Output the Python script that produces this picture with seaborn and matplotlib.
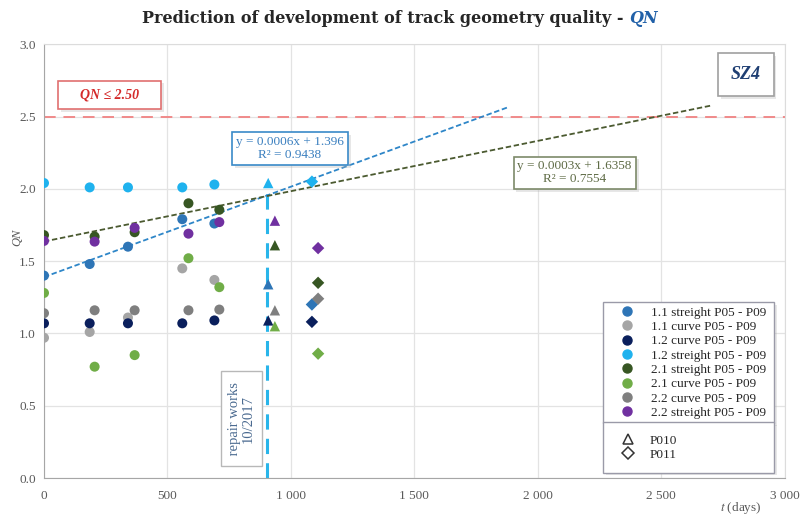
import numpy as np
import pandas as pd
import seaborn as sns
import matplotlib.pyplot as plt
import matplotlib.patheffects as pe
from matplotlib.lines import Line2D
from matplotlib.ticker import MultipleLocator, FuncFormatter

# measurement days: five campaigns P05 - P09, then P010 and P011
t_sect1 = [0, 185, 340, 560, 690, 908, 1085]
t_sect2 = [0, 205, 367, 585, 710, 935, 1110]
periods = ['P05 - P09'] * 5 + ['P010', 'P011']

series_names = ['1.1 streight P05 - P09', '1.1 curve P05 - P09', '1.2 curve P05 - P09',
                '1.2 streight P05 - P09', '2.1 streight P05 - P09', '2.1 curve P05 - P09',
                '2.2 curve P05 - P09', '2.2 streight P05 - P09']
series_colors = ['#2e75b6', '#a5a5a5', '#0a1f5c', '#1fb2ee', '#375623', '#70ad47', '#7f7f7f', '#7030a0']

qn_11_straight = [1.40, 1.48, 1.60, 1.79, 1.76, 1.34, 1.20]
qn_11_curve = [0.97, 1.01, 1.11, 1.45, 1.37, np.nan, np.nan]
qn_12_curve = [1.07, 1.07, 1.07, 1.07, 1.09, 1.09, 1.08]
qn_12_straight = [2.04, 2.01, 2.01, 2.01, 2.03, 2.04, 2.05]
qn_21_straight = [1.68, 1.67, 1.70, 1.90, 1.855, 1.61, 1.35]
qn_21_curve = [1.28, 0.77, 0.85, 1.52, 1.32, 1.05, 0.86]
qn_22_curve = [1.14, 1.16, 1.16, 1.16, 1.165, 1.16, 1.24]
qn_22_straight = [1.64, 1.635, 1.73, 1.69, 1.77, 1.78, 1.59]

qn_values = [qn_11_straight, qn_11_curve, qn_12_curve, qn_12_straight,
             qn_21_straight, qn_21_curve, qn_22_curve, qn_22_straight]
t_values = [t_sect1] * 4 + [t_sect2] * 4

# linear trends (label text, slope, intercept, end of line)
trend_blue = ('y = 0.0006x + 1.396\nR² = 0.9438', 0.000625, 1.39, 1880)
trend_green = ('y = 0.0003x + 1.6358\nR² = 0.7554', 0.000348, 1.6358, 2700)
qn_limit = 2.5
repair_day = 903

rows = []
for name, ts, qs in zip(series_names, t_values, qn_values):
    for t, q, p in zip(ts, qs, periods):
        rows.append({'series': name, 't': t, 'QN': q, 'period': p})
df = pd.DataFrame(rows).dropna()

sns.set_style("whitegrid")
plt.rcParams['font.family'] = ['Liberation Serif', 'DejaVu Serif']
plt.rcParams['mathtext.fontset'] = 'stix'

fig = plt.figure(figsize=(8, 5.17), dpi=100)
ax = fig.add_axes([0.055, 0.0754, 0.926, 0.839])

# limit line and repair works marker
ax.axhline(qn_limit, color='#f08a8a', lw=1.4, ls=(0, (6, 4)), zorder=1)
ax.plot([repair_day, repair_day], [0, 2.05], color='#29b5ea', lw=2.2, ls=(0, (5, 3)), zorder=1)

# trend lines
for (txt, k, q, x_end), col in [(trend_blue, '#2e86c8'), (trend_green, '#4b5a30')]:
    xs = np.array([0, x_end])
    ax.plot(xs, k * xs + q, color=col, lw=1.3, ls=(0, (3, 1.5)), zorder=2)

sns.scatterplot(data=df, x='t', y='QN', hue='series', style='period', size='period',
                hue_order=series_names, palette=series_colors,
                markers={'P05 - P09': 'o', 'P010': '^', 'P011': 'D'},
                sizes={'P05 - P09': 52, 'P010': 56, 'P011': 40},
                linewidth=0, legend=False, ax=ax, zorder=3)

ax.set_xlim(0, 3000)
ax.set_ylim(0, 3.0)
ax.xaxis.set_major_locator(MultipleLocator(500))
ax.xaxis.set_minor_locator(MultipleLocator(100))
ax.yaxis.set_major_locator(MultipleLocator(0.5))
ax.yaxis.set_minor_locator(MultipleLocator(0.1))
ax.xaxis.set_major_formatter(FuncFormatter(lambda v, p: f'{int(v):,}'.replace(',', ' ')))
ax.yaxis.set_major_formatter(FuncFormatter(lambda v, p: f'{v:.1f}'))
ax.tick_params(which='both', direction='inout', colors='#a6a6a6', labelcolor='#595959', labelsize=9.5)
ax.tick_params(which='major', length=5, width=0.8)
ax.tick_params(which='minor', length=3, width=0.8)
ax.tick_params(axis='x', pad=6)
ax.grid(which='major', color='#e3e3e3', lw=0.9)
ax.grid(which='minor', visible=False)
for side in ['left', 'bottom']:
    ax.spines[side].set_color('#a6a6a6')
for side in ['top', 'right']:
    ax.spines[side].set_color('#dcdcdc')
ax.set_xlabel('')
ax.set_ylabel('')

shadow = [pe.SimplePatchShadow(offset=(2, -2), shadow_rgbFace='#b0b0b0'), pe.Normal()]

# boxes with text
t1 = ax.text(266, 2.65, '    QN ≤ 2.50    ', color='#d42a2a', fontsize=10, fontweight='bold',
             fontstyle='italic', ha='center', va='center',
             bbox=dict(boxstyle='square,pad=0.55', fc='white', ec='#e07070', lw=1.2))
t1.get_bbox_patch().set_path_effects(shadow)
t2 = ax.text(2843, 2.79, 'SZ4', color='#1f3f73', fontsize=13, fontweight='bold',
             fontstyle='italic', ha='center', va='center',
             bbox=dict(boxstyle='square,pad=0.7', fc='white', ec='#a0a0a0', lw=1.2))
t2.get_bbox_patch().set_path_effects(shadow)
t3 = ax.text(996, 2.28, trend_blue[0], color='#3a7fbf', fontsize=9.5, ha='center', va='center',
             linespacing=1.1, bbox=dict(boxstyle='square,pad=0.3', fc='white', ec='#3a8ac8', lw=1.2))
t3.get_bbox_patch().set_path_effects(shadow)
t4 = ax.text(2149, 2.11, trend_green[0], color='#5e6b45', fontsize=9.5, ha='center', va='center',
             linespacing=1.1, bbox=dict(boxstyle='square,pad=0.3', fc='white', ec='#7d8a6a', lw=1.2))
t4.get_bbox_patch().set_path_effects(shadow)
ax.text(798, 0.41, ' repair works \n10/2017', color='#4a6a90', fontsize=10.5, rotation=90,
        ha='center', va='center', linespacing=1.05,
        bbox=dict(boxstyle='square,pad=0.5', fc='white', ec='#b8b8b8', lw=1))

# legends
h1 = [Line2D([], [], ls='', marker='o', ms=6.5, mfc=c, mec=c) for c in series_colors]
leg1 = ax.legend(h1, series_names, loc='upper left', bbox_to_anchor=(0.755, 0.405, 0.231, 0),
                 mode='expand', fontsize=9.5, labelspacing=0.16, handlelength=3.0,
                 handletextpad=0.3, borderpad=0.3, borderaxespad=0, fancybox=False,
                 framealpha=1, edgecolor='#9a9aa8')
leg1.get_frame().set_path_effects(shadow)
ax.add_artist(leg1)
h2 = [Line2D([], [], ls='', marker='^', ms=7, mfc='white', mec='#333333', mew=1.1),
      Line2D([], [], ls='', marker='D', ms=6, mfc='white', mec='#333333', mew=1.1)]
leg2 = ax.legend(h2, ['P010', 'P011'], loc='upper left', bbox_to_anchor=(0.755, 0.128, 0.231, 0),
                 mode='expand', fontsize=9.5, labelspacing=0.15, handlelength=2.0,
                 handletextpad=0.6, borderpad=0.9, borderaxespad=0, fancybox=False,
                 framealpha=1, edgecolor='#9a9aa8')
leg2.get_frame().set_path_effects(shadow)

# axis titles
ax.text(-0.036, 0.555, 'QN', transform=ax.transAxes, rotation=90, fontstyle='italic',
        color='#595959', fontsize=9, ha='center', va='center')
ax.text(0.94, -0.07, '$t$ (days)', transform=ax.transAxes, color='#595959', fontsize=9.5,
        ha='center', va='center')

# title: black part + italic blue QN
fig.canvas.draw()
r = fig.canvas.get_renderer()
title_main = fig.text(0.5, 0.965, 'Prediction of development of track geometry quality - ',
                      fontsize=11.5, fontweight='bold', ha='left', va='center',
                      family=['DejaVu Serif'])
title_qn = fig.text(0.5, 0.965, 'QN', fontsize=11.5, fontweight='bold', fontstyle='italic',
                    color='#2060a8', ha='left', va='center', family=['DejaVu Serif'])
w1 = title_main.get_window_extent(r).width
w2 = title_qn.get_window_extent(r).width
x0 = (fig.bbox.width - w1 - w2) / 2 / fig.bbox.width
title_main.set_x(x0)
title_qn.set_x(x0 + w1 / fig.bbox.width)

fig.savefig('out.png', dpi=100)
